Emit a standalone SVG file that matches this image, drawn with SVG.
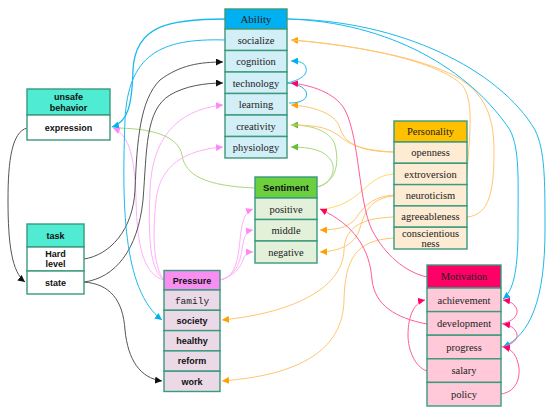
<svg xmlns="http://www.w3.org/2000/svg" width="550" height="417" viewBox="0 0 550 417">
<style>
rect{stroke:#3A9A7C;stroke-width:1.4}
.s{font-family:"Liberation Serif","Times New Roman",serif;font-size:10.5px;fill:#222;text-anchor:middle}
.b{font-family:"Liberation Sans",Arial,sans-serif;font-size:9px;font-weight:bold;fill:#111;text-anchor:middle}
.m{font-family:"Liberation Mono","Courier New",monospace;font-size:9.5px;fill:#222;text-anchor:middle}
.c path{fill:none;stroke-width:1}
.cy{stroke:#1CB9EE}.or{stroke:#FFC670}.ye{stroke:#FFD966}.gr{stroke:#A8D97A}.vi{stroke:#FFB0FA}.gy{stroke:#555}.rd{stroke:#FF5C9A}
.aw{markerUnits:userSpaceOnUse}
</style>
<defs>
<marker id="acy" viewBox="0 0 10 10" refX="10" refY="5" markerWidth="7" markerHeight="7" markerUnits="userSpaceOnUse" orient="auto"><path d="M0,0L10,5L0,10z" fill="#00B0F0"/></marker>
<marker id="aor" viewBox="0 0 10 10" refX="10" refY="5" markerWidth="7" markerHeight="7" markerUnits="userSpaceOnUse" orient="auto"><path d="M0,0L10,5L0,10z" fill="#FFA000"/></marker>
<marker id="agr" viewBox="0 0 10 10" refX="10" refY="5" markerWidth="7" markerHeight="7" markerUnits="userSpaceOnUse" orient="auto"><path d="M0,0L10,5L0,10z" fill="#66C033"/></marker>
<marker id="avi" viewBox="0 0 10 10" refX="10" refY="5" markerWidth="7" markerHeight="7" markerUnits="userSpaceOnUse" orient="auto"><path d="M0,0L10,5L0,10z" fill="#FF88F5"/></marker>
<marker id="agy" viewBox="0 0 10 10" refX="10" refY="5" markerWidth="7" markerHeight="7" markerUnits="userSpaceOnUse" orient="auto"><path d="M0,0L10,5L0,10z" fill="#111"/></marker>
<marker id="ard" viewBox="0 0 10 10" refX="10" refY="5" markerWidth="7" markerHeight="7" markerUnits="userSpaceOnUse" orient="auto"><path d="M0,0L10,5L0,10z" fill="#FF0066"/></marker>
</defs>

<g id="connectors" class="c">
<!-- green -->
<path class="gr" d="M255,188 C205,186 185,175 182,155 C178,135 150,128 113,128"/>
<path class="gr" d="M317,187 C335,183 340,165 335,145 C330,130 310,125 291,125" marker-end="url(#agr)"/>
<path class="gr" d="M317,187 C330,184 336,172 332,162 C326,150 310,147 291,147" marker-end="url(#agr)"/>
<!-- violet -->
<path class="vi" d="M164,280 C145,275 137,250 136,200 C135,160 130,135 113,128" marker-end="url(#avi)"/>
<path class="vi" d="M164,280 C150,270 148,240 150,190 C152,140 175,110 223,105" marker-end="url(#avi)"/>
<path class="vi" d="M164,280 C152,265 153,230 156,200 C160,165 185,150 223,147" marker-end="url(#avi)"/>
<path class="vi" d="M220,280 C235,278 238,260 240,240 C242,220 245,212 253,209" marker-end="url(#avi)"/>
<path class="vi" d="M220,280 C236,276 240,262 242,250 C244,236 246,231 253,230" marker-end="url(#avi)"/>
<path class="vi" d="M220,280 C237,275 241,265 243,260 C245,254 248,252 253,252" marker-end="url(#avi)"/>
<!-- gray -->
<path class="gy" d="M27,128 C12,132 8,160 8,200 C8,245 12,272 25,282" marker-end="url(#agy)"/>
<path class="gy" d="M84,259 C110,255 133,230 135,190 C137,140 140,100 160,80 C180,65 200,62 223,62" marker-end="url(#agy)"/>
<path class="gy" d="M84,282 C115,278 138,250 143,200 C147,150 145,110 170,95 C185,86 205,83 223,83" marker-end="url(#agy)"/>
<path class="gy" d="M84,282 C110,284 123,300 125,330 C128,360 140,378 162,381" marker-end="url(#agy)"/>
<!-- orange -->
<path class="or" d="M467,174 C470,130 474,100 462,85 C440,62 360,45 291,40" marker-end="url(#aor)"/>
<path class="or" d="M467,217 C490,215 494,190 494,150 C494,110 480,90 455,76 C420,58 360,46 291,40"/>
<path class="or" d="M394,152 C360,150 345,145 340,128 C335,112 310,106 291,105" marker-end="url(#aor)"/>
<path class="or" d="M394,152 C365,152 350,145 338,135 C325,126 310,125 291,125"/>
<path class="ye" d="M394,174 C370,175 365,195 340,205 C332,208 326,209 320,209"/>
<path class="or" d="M394,195 C375,196 365,205 358,215 C352,226 340,230 320,230" marker-end="url(#aor)"/>
<path class="or" d="M394,196 C372,198 365,210 360,228 C355,245 340,251 320,252" marker-end="url(#aor)"/>
<path class="or" d="M394,217 C365,218 345,225 344,250 C343,285 300,312 222,320" marker-end="url(#aor)"/>
<path class="or" d="M394,238 C355,240 345,260 344,300 C343,350 300,375 222,381" marker-end="url(#aor)"/>
<!-- cyan -->
<path class="cy" d="M225,19 C170,19 135,25 133,70 C132,105 128,122 112,127" marker-end="url(#acy)" style="stroke-width:1.3"/>
<path class="cy" d="M225,40 C160,38 128,55 125,120 C122,200 122,290 162,320" marker-end="url(#acy)"/>
<path class="cy" d="M287,19 C390,22 470,70 510,130 C520,150 518,180 518,230 C518,275 512,292 503,299" marker-end="url(#acy)"/>
<path class="cy" d="M287,19 C400,20 500,70 535,130 C545,150 545,180 545,230 C545,300 530,335 503,347" marker-end="url(#acy)"/>
<path class="cy" d="M287,83 C300,80 308,75 306,68 C305,63 300,61 291,61" marker-end="url(#acy)"/>
<path class="cy" d="M287,83 C305,85 308,92 306,97 C304,101 298,103 289,103"/>
<!-- red -->
<path class="rd" d="M427,277 C405,272 385,255 372,230 C358,200 360,140 345,110 C335,92 310,85 291,83" marker-end="url(#ard)"/>
<path class="rd" d="M427,324 C395,318 375,305 372,280 C370,250 355,225 320,209" marker-end="url(#ard)"/>
<path class="rd" d="M427,371 C415,367 408,350 408,335 C408,315 415,302 425,300" marker-end="url(#ard)"/>
<path class="rd" d="M501,324 C512,322 518,316 517,310 C515,304 510,301 503,300" marker-end="url(#ard)"/>
<path class="rd" d="M501,347 C512,345 518,340 517,334 C515,328 510,325 503,324" marker-end="url(#ard)"/>
<path class="rd" d="M501,394 C515,392 520,380 519,368 C517,355 512,349 503,347" marker-end="url(#ard)"/>
</g>

<g id="ability">
<rect x="225" y="9" width="62" height="20" fill="#00B0F0"/>
<rect x="225" y="29" width="62" height="21.5" fill="#D2EEF6"/>
<rect x="225" y="50.5" width="62" height="21.5" fill="#D2EEF6"/>
<rect x="225" y="72" width="62" height="21.5" fill="#D2EEF6"/>
<rect x="225" y="93.5" width="62" height="21.5" fill="#D2EEF6"/>
<rect x="225" y="115" width="62" height="21.5" fill="#D2EEF6"/>
<rect x="225" y="136.5" width="62" height="21.5" fill="#D2EEF6"/>
<text class="s" x="256" y="23" style="font-size:11px">Ability</text>
<text class="s" x="256" y="43.5">socialize</text>
<text class="s" x="256" y="65">cognition</text>
<text class="s" x="256" y="86.5">technology</text>
<text class="s" x="256" y="108">learning</text>
<text class="s" x="256" y="129.5">creativity</text>
<text class="s" x="256" y="151">physiology</text>
</g>

<g id="unsafe">
<rect x="27" y="89" width="83" height="26" fill="#4FEBD2"/>
<rect x="27" y="115" width="83" height="25" fill="#FFFFFF"/>
<text class="b" x="68.5" y="100">unsafe</text>
<text class="b" x="68.5" y="110.5">behavior</text>
<text class="b" x="68.5" y="130.5">expression</text>
</g>

<g id="task">
<rect x="27" y="224" width="57" height="23" fill="#4FEBD2"/>
<rect x="27" y="247" width="57" height="24" fill="#FFFFFF"/>
<rect x="27" y="271" width="57" height="23" fill="#FFFFFF"/>
<text class="b" x="55.5" y="238.5">task</text>
<text class="b" x="55.5" y="256.5">Hard</text>
<text class="b" x="55.5" y="267">level</text>
<text class="b" x="55.5" y="285.5">state</text>
</g>

<g id="pressure">
<rect x="164" y="270.5" width="56" height="19.5" fill="#F88EF2"/>
<rect x="164" y="290" width="56" height="20.3" fill="#EBD9E8"/>
<rect x="164" y="310.3" width="56" height="20.3" fill="#EBD9E8"/>
<rect x="164" y="330.6" width="56" height="20.3" fill="#EBD9E8"/>
<rect x="164" y="350.9" width="56" height="20.3" fill="#EBD9E8"/>
<rect x="164" y="371.2" width="56" height="20.3" fill="#EBD9E8"/>
<text class="b" x="192" y="283.5">Pressure</text>
<text class="m" x="192" y="303.5">family</text>
<text class="b" x="192" y="323.8">society</text>
<text class="b" x="192" y="344">healthy</text>
<text class="b" x="192" y="364.3">reform</text>
<text class="b" x="192" y="384.6">work</text>
</g>

<g id="sentiment">
<rect x="255" y="177" width="62" height="21" fill="#6CCF3E"/>
<rect x="255" y="198" width="62" height="21.5" fill="#E3F0DA"/>
<rect x="255" y="219.5" width="62" height="21.5" fill="#E3F0DA"/>
<rect x="255" y="241" width="62" height="22" fill="#E3F0DA"/>
<text class="b" x="286" y="191" style="font-size:9.5px">Sentiment</text>
<text class="s" x="286" y="212.5">positive</text>
<text class="s" x="286" y="234">middle</text>
<text class="s" x="286" y="255.5">negative</text>
</g>

<g id="personality">
<rect x="394" y="121" width="73" height="21" fill="#FFC000"/>
<rect x="394" y="142" width="73" height="21.3" fill="#FDEBD3"/>
<rect x="394" y="163.3" width="73" height="21.3" fill="#FDEBD3"/>
<rect x="394" y="184.6" width="73" height="21.3" fill="#FDEBD3"/>
<rect x="394" y="205.9" width="73" height="21.3" fill="#FDEBD3"/>
<rect x="394" y="227.2" width="73" height="21.8" fill="#FDEBD3"/>
<text class="s" x="430.5" y="135">Personality</text>
<text class="s" x="430.5" y="156">openness</text>
<text class="s" x="430.5" y="177.5">extroversion</text>
<text class="s" x="430.5" y="198.8">neuroticism</text>
<text class="s" x="430.5" y="220">agreeableness</text>
<text class="s" x="430.5" y="236.5">conscientious</text>
<text class="s" x="430.5" y="246.5">ness</text>
</g>

<g id="motivation">
<rect x="427" y="265" width="74" height="23" fill="#FF0066"/>
<rect x="427" y="288" width="74" height="23.6" fill="#FFC9D9"/>
<rect x="427" y="311.6" width="74" height="23.6" fill="#FFC9D9"/>
<rect x="427" y="335.2" width="74" height="23.6" fill="#FFC9D9"/>
<rect x="427" y="358.8" width="74" height="23.6" fill="#FFC9D9"/>
<rect x="427" y="382.4" width="74" height="23.6" fill="#FFC9D9"/>
<text class="s" x="464" y="280">Motivation</text>
<text class="s" x="464" y="303.5">achievement</text>
<text class="s" x="464" y="327">development</text>
<text class="s" x="464" y="350.5">progress</text>
<text class="s" x="464" y="374">salary</text>
<text class="s" x="464" y="397.5">policy</text>
</g>
</svg>
